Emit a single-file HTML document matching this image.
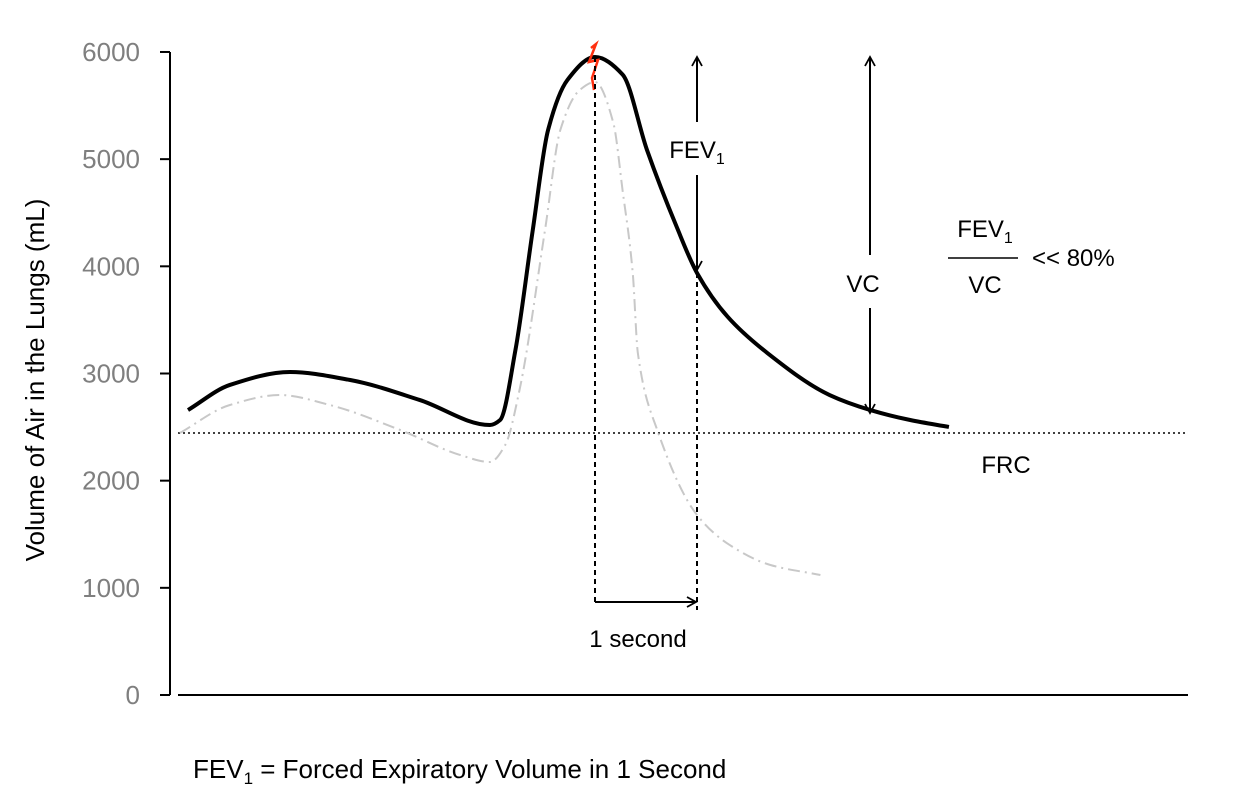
<!DOCTYPE html>
<html><head><meta charset="utf-8"><style>
html,body{margin:0;padding:0;background:#fff;}
svg text{font-family:"Liberation Sans",sans-serif;}
</style></head><body>
<svg id="chart" width="1234" height="791" viewBox="0 0 1234 791" xmlns="http://www.w3.org/2000/svg">
<defs>
<marker id="ah" markerWidth="12" markerHeight="12" refX="10" refY="6" orient="auto" markerUnits="userSpaceOnUse">
<path d="M1,1 L10,6 L1,11" fill="none" stroke="#000" stroke-width="1.8"/></marker>
</defs>
<g id="axes"></g>
<g id="marks"></g>
<g id="annot"></g>
</svg>
<script>
const yTicks=[0,1000,2000,3000,4000,5000,6000];
const obsTime=[-3.99,-3.58,-2.99,-2.40,-1.72,-1.03,-0.93,-0.78,-0.61,-0.46,-0.27,0,0.27,0.51,0.80,1.0,1.30,1.69,2.30,2.70,3.09,3.47];
const obsVolume=[2659,2893,3014,2939,2753,2519,2566,3219,4339,5272,5739,5953,5790,5085,4370,3938,3530,3191,2799,2659,2566,2501];
const normTime=[-4.07,-3.58,-3.09,-2.60,-1.91,-1.32,-1.03,-0.88,-0.74,-0.49,-0.34,-0.15,0,0.18,0.27,0.37,0.42,0.61,1.0,1.32,1.72,2.21];
const normVolume=[2445,2706,2799,2706,2473,2239,2174,2333,2846,4339,5272,5645,5720,5337,4712,3938,3191,2473,1680,1400,1213,1120];
const frcVolume=[2445];

const NS="http://www.w3.org/2000/svg";
const X=t=>595+t*102;
const Y=v=>695-v*0.10717;
function el(tag,attrs,parent,txt){const e=document.createElementNS(NS,tag);for(const k in attrs)e.setAttribute(k,attrs[k]);if(txt!==undefined)e.textContent=txt;parent.appendChild(e);return e;}
function smooth(xs,ys){
 const px=xs.map(X),py=ys.map(Y),n=px.length;
 const h=[],s=[];for(let i=0;i<n-1;i++){h[i]=px[i+1]-px[i];s[i]=(py[i+1]-py[i])/h[i];}
 const m=[];m[0]=s[0];m[n-1]=s[n-2];
 for(let i=1;i<n-1;i++){
  if(s[i-1]*s[i]<=0)m[i]=0;
  else{const w1=2*h[i]+h[i-1],w2=h[i]+2*h[i-1];m[i]=(w1+w2)/(w1/s[i-1]+w2/s[i]);}
 }
 let d=`M${px[0]},${py[0]}`;
 for(let i=0;i<n-1;i++){const dx=h[i]/3;
  d+=` C${px[i]+dx},${py[i]+m[i]*dx} ${px[i+1]-dx},${py[i+1]-m[i+1]*dx} ${px[i+1]},${py[i+1]}`;}
 return d;}

const axes=document.getElementById('axes'),marks=document.getElementById('marks'),an=document.getElementById('annot');
let a=el('line',{x1:170,y1:Y(6000),x2:170,y2:Y(0),stroke:'#000','stroke-width':2},axes);

a=el('line',{x1:178,y1:Y(0),x2:1188,y2:Y(0),stroke:'#000','stroke-width':2},axes);

yTicks.forEach(v=>{
 const t=el('line',{x1:160,y1:Y(v),x2:170,y2:Y(v),stroke:'#000','stroke-width':2},axes);
 
 const l=el('text',{x:140,y:Y(v)+9,'text-anchor':'end','font-size':26,fill:'#7f7f7f'},axes,String(v));
 
});
a=el('text',{x:0,y:0,transform:'translate(44,380) rotate(-90)','text-anchor':'middle','font-size':26,fill:'#000'},axes,'Volume of Air in the Lungs (mL)');


a=el('line',{x1:178,y1:Y(frcVolume[0]),x2:1188,y2:Y(frcVolume[0]),stroke:'#000','stroke-width':1.5,'stroke-dasharray':'2,3'},marks);

a=el('path',{d:smooth(normTime,normVolume),fill:'none',stroke:'#c8c8c8','stroke-width':2,'stroke-dasharray':'12,5,2,5'},marks);

a=el('path',{d:smooth(obsTime,obsVolume),fill:'none',stroke:'#000','stroke-width':4,'stroke-linejoin':'round'},marks);

a=el('path',{d:'M591,48 L596,44 L589,62 L598,60 L592,78 L594,90',fill:'none',stroke:'#ff3010','stroke-width':2.5},marks);


function ln(x1,y1,x2,y2,name,opts){const o=Object.assign({x1,y1,x2,y2,stroke:'#000','stroke-width':2},opts||{});const e=el('line',o,an);return e;}
ln(595,Y(5953),595,606,'peak-dashed-line',{'stroke-dasharray':'5,4'});
ln(697,Y(3938),697,610,'one-second-dashed-line',{'stroke-dasharray':'5,4'});
ln(595,602,696,602,'one-second-arrow',{'marker-end':'url(#ah)'});
ln(697,122,697,57,'fev1-arrow-up',{'marker-end':'url(#ah)'});
ln(697,175,697,270,'fev1-arrow-down',{'marker-end':'url(#ah)'});
ln(870,255,870,57,'vc-arrow-up',{'marker-end':'url(#ah)'});
ln(870,308,870,413,'vc-arrow-down',{'marker-end':'url(#ah)'});
ln(948,258,1018,258,'fraction-bar',{'stroke-width':1.5});
function tx(x,y,s,name,size,anchor){const e=el('text',{x,y,'font-size':size||24,'text-anchor':anchor||'middle',fill:'#000'},an);e.innerHTML=s;return e;}
tx(697,158,'FEV<tspan font-size="16" dy="6">1</tspan>','fev1-label');
tx(863,292,'VC','vc-label');
tx(985,237,'FEV<tspan font-size="16" dy="6">1</tspan>','fraction-numerator');
tx(985,293,'VC','fraction-denominator');
tx(1032,266,'&lt;&lt; 80%','ratio-label',24,'start');
tx(1006,473,'FRC','frc-label');
tx(638,647,'1 second','one-second-label');
tx(193,778,'FEV<tspan font-size="17" dy="6">1</tspan><tspan dy="-6"> = Forced Expiratory Volume in 1 Second</tspan>','fev1-definition',26,'start');
</script>
</body></html>
